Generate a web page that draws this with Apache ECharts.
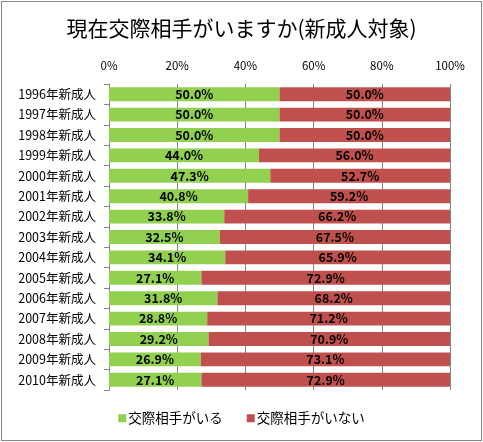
<!DOCTYPE html>
<html>
<head>
<meta charset="utf-8">
<script src="https://cdn.jsdelivr.net/npm/echarts@6/dist/echarts.min.js"></script>
<style>
html, body { margin: 0; padding: 0; background: #fff; }
#main { position: absolute; left: 1px; top: 1px; width: 479px; height: 438px; border: 1px solid #868686; }
</style>
</head>
<body>
<div id="main"></div>
<script>
var years = ['1996年新成人', '1997年新成人', '1998年新成人', '1999年新成人', '2000年新成人',
    '2001年新成人', '2002年新成人', '2003年新成人', '2004年新成人', '2005年新成人',
    '2006年新成人', '2007年新成人', '2008年新成人', '2009年新成人', '2010年新成人'];
var hasPartner = [50.0, 50.0, 50.0, 44.0, 47.3, 40.8, 33.8, 32.5, 34.1, 27.1, 31.8, 28.8, 29.2, 26.9, 27.1];
var noPartner = [50.0, 50.0, 50.0, 56.0, 52.7, 59.2, 66.2, 67.5, 65.9, 72.9, 68.2, 71.2, 70.9, 73.1, 72.9];
var xTicks = [0, 20, 40, 60, 80, 100];

var font = '"Noto Sans CJK JP", sans-serif';

var chart = echarts.init(document.getElementById('main'));

function pct(p) {
    return p.value.toFixed(1) + '%';
}

chart.setOption({
    animation: false,
    textStyle: { fontFamily: font },
    title: {
        text: '現在交際相手がいますか(新成人対象)',
        left: 'center',
        top: 11,
        textStyle: { fontFamily: font, fontSize: 21, fontWeight: 'normal', color: '#000' }
    },
    legend: {
        bottom: 10,
        left: 'center',
        itemWidth: 8,
        itemHeight: 8,
        itemGap: 24,
        icon: 'rect',
        textStyle: { fontFamily: font, fontSize: 13.5, color: '#000', padding: [0, 0, 0, -3] },
        data: ['交際相手がいる', '交際相手がいない']
    },
    grid: { left: 107, right: 31, top: 82, bottom: 50 },
    xAxis: {
        type: 'value',
        position: 'top',
        min: 0,
        max: 100,
        interval: 20,
        axisLine: { show: false },
        axisTick: { show: false },
        axisLabel: {
            fontSize: 11.5,
            color: '#000',
            margin: 13,
            formatter: function(v) { return xTicks.indexOf(v) >= 0 ? v + '%' : ''; }
        },
        splitLine: { show: true, lineStyle: { color: '#868686', width: 1 } }
    },
    yAxis: {
        type: 'category',
        inverse: true,
        data: years,
        axisLine: { show: true, lineStyle: { color: '#868686' } },
        axisTick: { show: true, length: 5, lineStyle: { color: '#868686' } },
        axisLabel: { fontSize: 12.5, color: '#000', margin: 13 }
    },
    series: [{
        name: '交際相手がいる',
        type: 'bar',
        stack: 'total',
        barWidth: '68%',
        itemStyle: { color: '#92D050' },
        label: {
            show: true,
            position: 'inside',
            color: '#000',
            fontWeight: 'bold',
            fontSize: 12.5,
            formatter: pct
        },
        data: hasPartner
    }, {
        name: '交際相手がいない',
        type: 'bar',
        stack: 'total',
        barWidth: '68%',
        itemStyle: { color: '#C0504D' },
        label: {
            show: true,
            position: 'inside',
            color: '#000',
            fontWeight: 'bold',
            fontSize: 12.5,
            formatter: pct
        },
        data: noPartner
    }]
});
</script>
</body>
</html>
